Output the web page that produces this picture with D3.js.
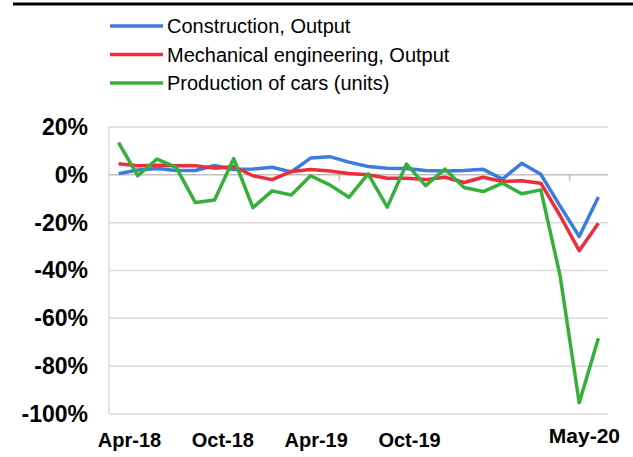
<!DOCTYPE html>
<html>
<head>
<meta charset="utf-8">
<script src="https://cdn.jsdelivr.net/npm/d3@7"></script>
<style>
  body { margin: 0; background: #fff; }
  svg { display: block; font-family: "Liberation Sans", Arial, sans-serif; }
</style>
</head>
<body>
<div id="chart"></div>
<script>
// monthly categories, Apr-18 .. May-20
let months = ["Apr-18","May-18","Jun-18","Jul-18","Aug-18","Sep-18","Oct-18","Nov-18","Dec-18",
  "Jan-19","Feb-19","Mar-19","Apr-19","May-19","Jun-19","Jul-19","Aug-19","Sep-19","Oct-19",
  "Nov-19","Dec-19","Jan-20","Feb-20","Mar-20","Apr-20","May-20"]

// % change
let construction = [0.5, 2.0, 2.6, 1.8, 1.8, 3.9, 2.2, 2.4, 3.2, 1.2, 7.0, 7.6, 5.3, 3.5, 2.8, 2.6,
  1.8, 1.6, 1.8, 2.3, -1.8, 4.8, 0.2, -13, -25.8, -9.3]
let mechanical = [4.6, 3.8, 4.0, 3.8, 3.8, 2.8, 3.5, -0.4, -2.0, 1.4, 2.2, 1.6, 0.6, 0, -1.4, -1.4,
  -2.0, -1.0, -3.2, -1.0, -2.8, -2.5, -3.5, -17, -31.7, -20.2]
let cars = [13.5, -0.4, 6.6, 3.1, -11.6, -10.5, 6.8, -13.7, -6.7, -8.4, -0.4, -4.2, -9.4, 0.4, -13.5,
  4.5, -4.5, 2.4, -5.3, -7.0, -3.5, -7.9, -6.3, -42, -95.3, -68.3]

let seriesNames = ["Construction, Output", "Mechanical engineering, Output", "Production of cars (units)"]
let seriesColors = ["#3b7ddd", "#ec2d3c", "#36b03a"]
let yTicks = [20, 0, -20, -40, -60, -80, -100]
let xTickLabels = ["Apr-18", "Oct-18", "Apr-19", "Oct-19"]
let lastLabel = "May-20"

let W = 633, H = 457
let svg = d3.select("#chart").append("svg").attr("width", W).attr("height", H)

// top rule
svg.append("line").attr("x1", 13).attr("x2", W).attr("y1", 4).attr("y2", 4)
  .attr("stroke", "#000").attr("stroke-width", 3)

let x = d3.scalePoint().domain(months).range([109, 608]).padding(0.5)
let y = d3.scaleLinear().domain([-100, 20]).range([414, 127])

// gridlines
svg.append("g").selectAll("line").data(yTicks.filter(d => d !== 0)).join("line")
  .attr("x1", 109).attr("x2", 608)
  .attr("y1", d => y(d)).attr("y2", d => y(d))
  .attr("stroke", "#d9d9d9").attr("stroke-width", 1.5)

// left axis line
svg.append("line").attr("x1", 109).attr("x2", 109).attr("y1", y(20)).attr("y2", y(-100))
  .attr("stroke", "#d9d9d9").attr("stroke-width", 1.5)

// zero line with yearly tick marks
svg.append("line").attr("x1", 109).attr("x2", 608).attr("y1", y(0)).attr("y2", y(0))
  .attr("stroke", "#bfbfbf").attr("stroke-width", 1.5)
let step = x.step()
svg.append("g").selectAll("line").data(["Apr-19", "Apr-20"]).join("line")
  .attr("x1", d => x(d) - step / 2).attr("x2", d => x(d) - step / 2)
  .attr("y1", y(0)).attr("y2", y(0) + 6)
  .attr("stroke", "#bfbfbf").attr("stroke-width", 1.5)

// y axis labels
let yAxis = d3.axisLeft(y).tickValues(yTicks).tickFormat(d => d + "%").tickSize(0).tickPadding(21)
let yg = svg.append("g").attr("transform", "translate(109,0)").call(yAxis)
yg.select(".domain").remove()
yg.selectAll("text").attr("font-size", 23).attr("font-weight", "bold").attr("fill", "#000")
  .attr("font-family", "Liberation Sans, Arial, sans-serif")

// x axis labels (spaced as in the original, not on the data points)
let xl = d3.scalePoint().domain(xTickLabels).range([129, 409])
let xAxis = d3.axisBottom(xl).tickSize(0).tickPadding(0)
let xg = svg.append("g").attr("transform", "translate(0,433)").call(xAxis)
xg.select(".domain").remove()
xg.selectAll("text").attr("font-size", 20).attr("font-weight", "bold").attr("fill", "#000")
  .attr("font-family", "Liberation Sans, Arial, sans-serif")
svg.append("text").attr("x", x(lastLabel) - 14).attr("y", 443)
  .attr("text-anchor", "middle").attr("font-size", 21).attr("font-weight", "bold")
  .text(lastLabel)

// lines
let data = [construction, mechanical, cars]
let line = d3.line().x((d, i) => x(months[i])).y(d => y(d))
svg.append("g").selectAll("path").data(data).join("path")
  .attr("d", line)
  .attr("fill", "none")
  .attr("stroke", (d, i) => seriesColors[i])
  .attr("stroke-width", 3.5)
  .attr("stroke-linejoin", "round")

// legend
let lg = svg.append("g").selectAll("g").data(seriesNames).join("g")
  .attr("transform", (d, i) => "translate(110," + (26 + i * 28.5) + ")")
lg.append("line").attr("x1", 0).attr("x2", 53)
  .attr("stroke", (d, i) => seriesColors[i]).attr("stroke-width", 3.5)
lg.append("text").attr("x", 57).attr("dy", "0.35em").attr("font-size", 20)
  .text(d => d)
</script>
</body>
</html>
